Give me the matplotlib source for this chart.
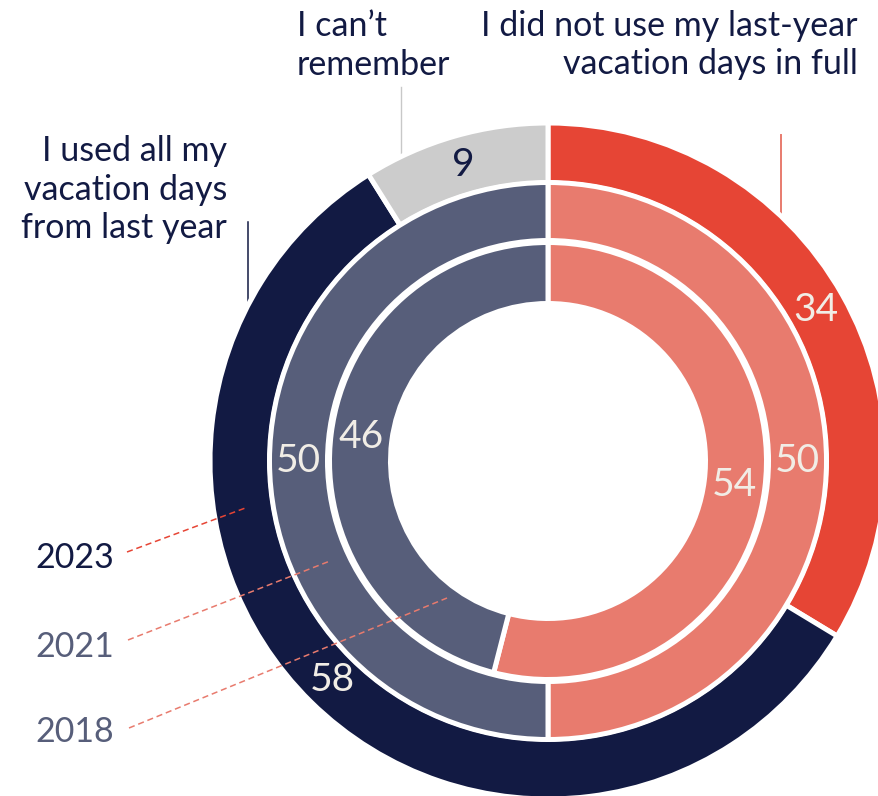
import numpy as np
import matplotlib
matplotlib.use('Agg')
from matplotlib import pyplot as plt

plt.rcParams['font.family'] = ['Lato', 'DejaVu Sans']

# answers, clockwise from the top
categories = ['I did not use my last-year\nvacation days in full',
              'I used all my\nvacation days\nfrom last year',
              'I can\u2019t\nremember']
years = ['2023', '2021', '2018']
values_2023 = [34, 58, 9]
values_2021 = [50, 50]
values_2018 = [54, 46]

red = '#E64535'
salmon = '#E87B6E'
navy = '#121A43'
slate = '#575E7A'
grey = '#CCCCCC'
offwhite = '#F1EDE6'

W, H = 879, 796
fig = plt.figure(figsize=(W / 100, H / 100), dpi=100)
ax = fig.add_axes([0, 0, 1, 1])

cx, cy = 548, H - 461
# (values, colours, outer radius, width, label colours)
rings = [
    (values_2023, [red, navy, grey], 338, 60, [offwhite, offwhite, navy]),
    (values_2021, [salmon, slate], 278.5, 58, [offwhite, offwhite]),
    (values_2018, [salmon, slate], 218.5, 61, [offwhite, offwhite]),
]

for vals, cols, r, w, tcols in rings:
    ax.pie(vals, colors=cols, radius=r, center=(cx, cy), startangle=90,
           counterclock=False,
           wedgeprops=dict(width=w, edgecolor='white', linewidth=3.6), frame=True)
    vals = np.array(vals, dtype=float)
    frac = (np.cumsum(vals) - vals / 2) / vals.sum()
    ang = np.deg2rad(90 - 360 * frac)
    rm = r - w / 2
    for v, a, tc in zip(vals, ang, tcols):
        ax.text(cx + rm * np.cos(a), cy + rm * np.sin(a), '%d' % v,
                ha='center', va='center', fontsize=28, color=tc, zorder=5)

ax.set_xlim(0, W)
ax.set_ylim(0, H)
ax.set_aspect('equal')
ax.axis('off')

fs = 24.5
# category labels (anchored at the last line's baseline) with leader lines
ax.text(858, H - 74, categories[0], ha='right', va='baseline', multialignment='right',
        fontsize=fs, color=navy, linespacing=1.25)
ax.plot([781, 781], [H - 135, H - 240], color=salmon, lw=1.4, zorder=0)

ax.text(227, H - 238, categories[1], ha='right', va='baseline', multialignment='right',
        fontsize=fs, color=navy, linespacing=1.25)
ax.plot([248, 248], [H - 222, H - 330], color=navy, lw=1.1, zorder=0)

ax.text(297, H - 75, categories[2], ha='left', va='baseline', multialignment='left',
        fontsize=fs, color=navy, linespacing=1.25)
ax.plot([401, 401], [H - 87, H - 180], color='#C8C8C8', lw=1.0, zorder=0)

# year labels with dashed pointers into each ring
year_cols = [navy, slate, slate]
dash_cols = [red, salmon, salmon]
year_y = [568, 657, 742]
starts = [(127, 552), (128, 640), (129, 728)]
ends = [(248, 507), (330, 561), (447, 598)]
for yr, yc, dc, yy, s, e in zip(years, year_cols, dash_cols, year_y, starts, ends):
    ax.text(35, H - yy, yr, ha='left', va='baseline', fontsize=fs, color=yc)
    ax.plot([s[0], e[0]], [H - s[1], H - e[1]], color=dc, lw=1.1,
            dashes=(4, 2.5), zorder=6)

fig.savefig('out.png', dpi=100)
